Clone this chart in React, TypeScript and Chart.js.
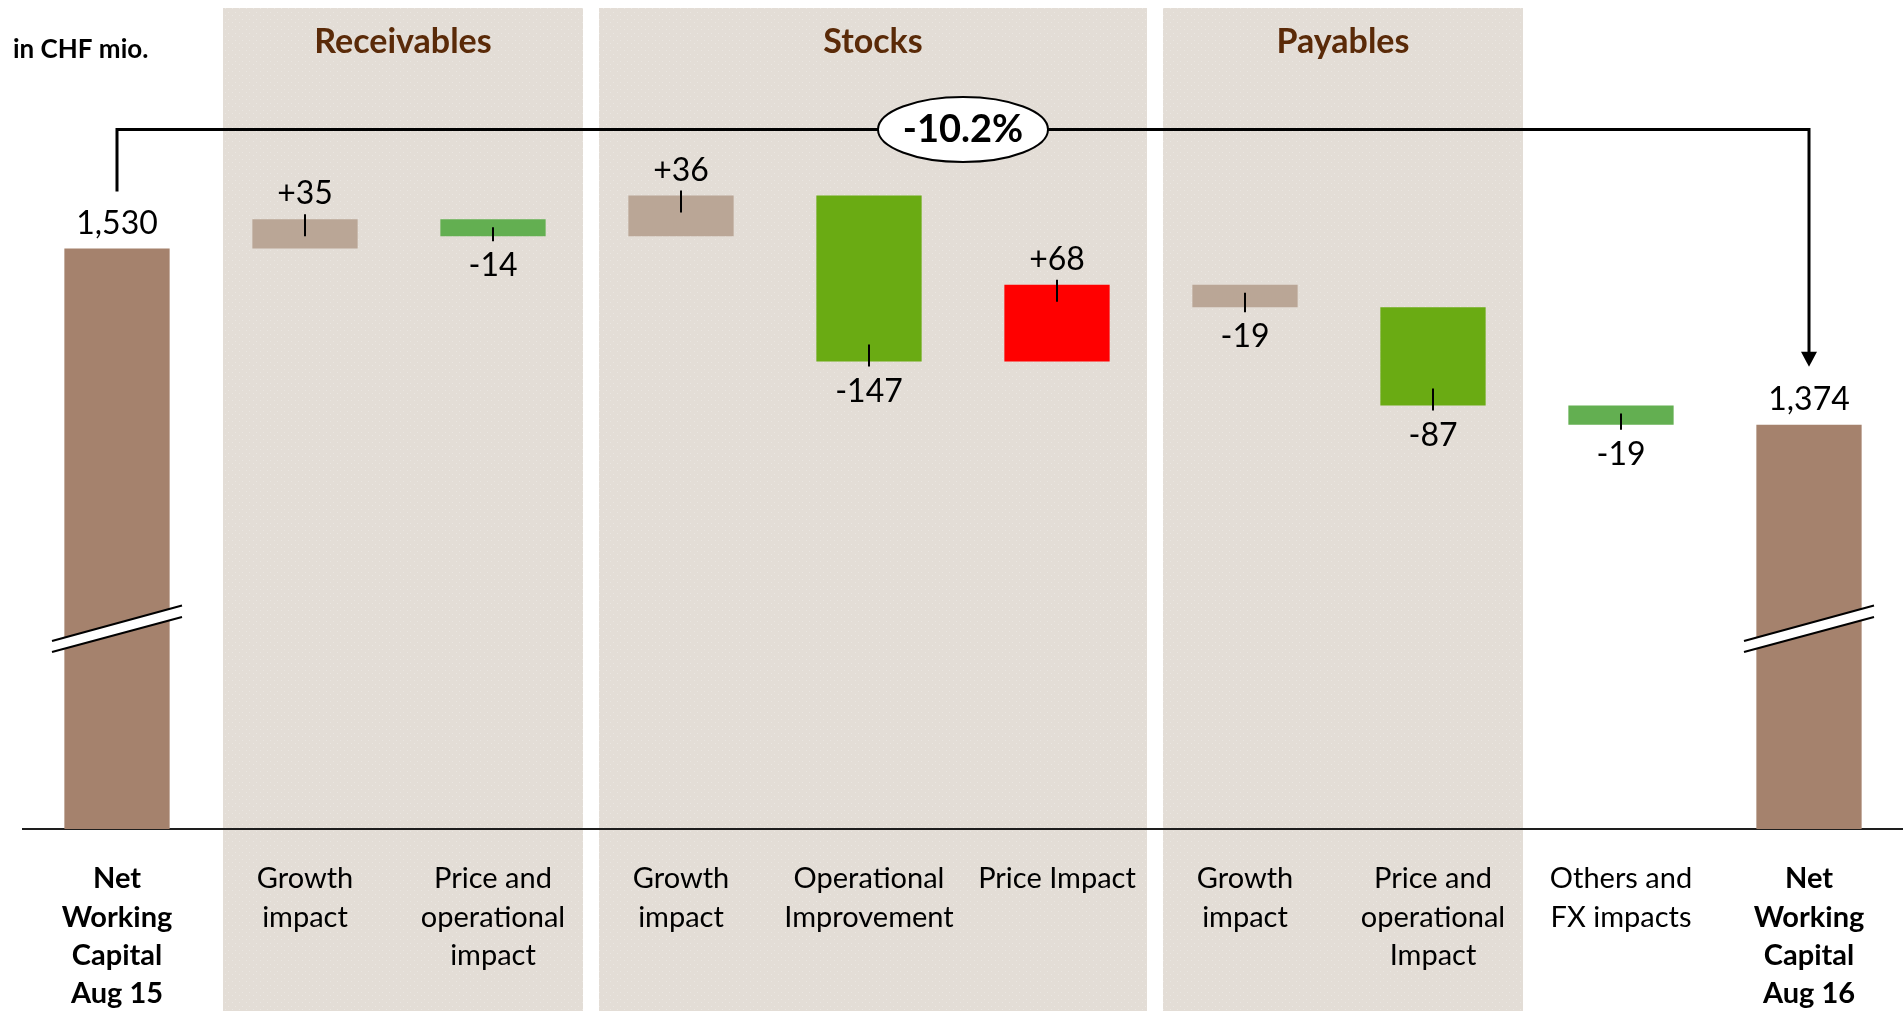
import React, { useEffect, useRef } from "react";
import { Chart, registerables } from "chart.js";

Chart.register(...registerables);

// ---------- data ----------
const categories: string[][] = [
  ["Net", "Working", "Capital", "Aug 15"],
  ["Growth", "impact"],
  ["Price and", "operational", "impact"],
  ["Growth", "impact"],
  ["Operational", "Improvement"],
  ["Price Impact"],
  ["Growth", "impact"],
  ["Price and", "operational", "Impact"],
  ["Others and", "FX impacts"],
  ["Net", "Working", "Capital", "Aug 16"],
];
const valueLabels = ["1,530", "+35", "-14", "+36", "-147", "+68", "-19", "-87", "-19", "1,374"];
// bar extents (axis is broken, starts near 1016)
const barStart = [1016, 1530, 1556, 1541, 1577, 1430, 1498, 1478, 1391, 1016];
const barEnd = [1530, 1556, 1541, 1577, 1430, 1498, 1478, 1391, 1374, 1374];
const totalFlags = [true, false, false, false, false, false, false, false, false, true];
const groupNames = ["Receivables", "Stocks", "Payables"];
const groupFirst = [1, 3, 6];
const groupLast = [2, 5, 7];
const changeLabel = "-10.2%";
const unitLabel = "in CHF mio.";
const yMin = 1016;
const yMax = 1697;

// ---------- styles ----------
const barColors = [
  "#A5826D", "#BAA696", "#63AF51", "#BAA696", "#6AAB13",
  "#FF0000", "#BAA696", "#6AAB13", "#63AF51", "#A5826D",
];
const FONT = "Lato, 'Open Sans', sans-serif";

const decorPlugin = {
  id: "decor",
  beforeDraw(chart: any) {
    const { ctx, scales } = chart;
    const x = scales.x;
    const step = x.getPixelForValue(1) - x.getPixelForValue(0);
    ctx.save();
    const tile = document.createElement("canvas");
    tile.width = 7;
    tile.height = 7;
    const tc = tile.getContext("2d")!;
    tc.fillStyle = "#E3DDD6";
    tc.fillRect(0, 0, 7, 7);
    tc.fillStyle = "#EAE6E1";
    tc.fillRect(1, 1, 1, 1);
    tc.fillRect(4, 5, 1, 1);
    const pat = ctx.createPattern(tile, "repeat");
    groupNames.forEach((name, g) => {
      const left = x.getPixelForValue(groupFirst[g]) - step / 2 + 12;
      const right = x.getPixelForValue(groupLast[g]) + step / 2 - 4;
      ctx.fillStyle = pat || "#E3DDD6";
      ctx.fillRect(left, 8, right - left, chart.height - 8);
      ctx.fillStyle = "#5A2A08";
      ctx.font = `bold 34px ${FONT}`;
      ctx.textAlign = "center";
      ctx.textBaseline = "alphabetic";
      ctx.fillText(name, (left + right) / 2, 53);
    });
    ctx.fillStyle = "#000";
    ctx.font = `bold 26px ${FONT}`;
    ctx.textAlign = "left";
    ctx.textBaseline = "alphabetic";
    ctx.fillText(unitLabel, 13, 58);
    ctx.restore();
  },
  afterDatasetsDraw(chart: any) {
    const { ctx, chartArea } = chart;
    const meta = chart.getDatasetMeta(0);
    const bars = meta.data;
    ctx.save();
    ctx.textAlign = "center";
    ctx.textBaseline = "alphabetic";

    bars.forEach((b: any, i: number) => {
      const top = Math.min(b.y, b.base);
      const bottom = Math.max(b.y, b.base);
      const cx = b.x;
      const up = barEnd[i] > barStart[i];
      ctx.fillStyle = "#000";
      ctx.font = `32px ${FONT}`;
      if (totalFlags[i]) {
        ctx.fillText(valueLabels[i], cx, top - 15);
        // broken-axis mark
        const yb = chartArea.bottom;
        const hw = 65;
        ctx.fillStyle = "#FFFFFF";
        ctx.beginPath();
        ctx.moveTo(cx - hw, yb - 188);
        ctx.lineTo(cx + hw, yb - 223.5);
        ctx.lineTo(cx + hw, yb - 212);
        ctx.lineTo(cx - hw, yb - 177);
        ctx.closePath();
        ctx.fill();
        ctx.strokeStyle = "#000";
        ctx.lineWidth = 2;
        ctx.beginPath();
        ctx.moveTo(cx - hw, yb - 188);
        ctx.lineTo(cx + hw, yb - 223.5);
        ctx.moveTo(cx - hw, yb - 177);
        ctx.lineTo(cx + hw, yb - 212);
        ctx.stroke();
      } else {
        ctx.strokeStyle = "#000";
        ctx.lineWidth = 2;
        ctx.beginPath();
        if (up) {
          ctx.fillText(valueLabels[i], cx, top - 15);
          ctx.moveTo(cx, top - 5);
          ctx.lineTo(cx, Math.min(top + 17, bottom - 8));
        } else {
          ctx.fillText(valueLabels[i], cx, bottom + 40);
          ctx.moveTo(cx, bottom + 5);
          ctx.lineTo(cx, Math.max(top + 8, bottom - 17));
        }
        ctx.stroke();
      }
    });

    // bracket with arrow
    const first = bars[0];
    const last = bars[bars.length - 1];
    const firstTop = Math.min(first.y, first.base);
    const lastTop = Math.min(last.y, last.base);
    const yLine = 129.5;
    const tipY = lastTop - 58;
    ctx.strokeStyle = "#000";
    ctx.lineWidth = 3;
    ctx.lineJoin = "miter";
    ctx.beginPath();
    ctx.moveTo(first.x, firstTop - 57);
    ctx.lineTo(first.x, yLine);
    ctx.lineTo(last.x, yLine);
    ctx.lineTo(last.x, tipY - 12);
    ctx.stroke();
    ctx.fillStyle = "#000";
    ctx.beginPath();
    ctx.moveTo(last.x, tipY);
    ctx.lineTo(last.x - 8, tipY - 15);
    ctx.lineTo(last.x + 8, tipY - 15);
    ctx.closePath();
    ctx.fill();

    // ellipse with change
    const ex = (first.x + last.x) / 2;
    ctx.beginPath();
    ctx.ellipse(ex, yLine, 85, 32.5, 0, 0, Math.PI * 2);
    ctx.fillStyle = "#FFFFFF";
    ctx.fill();
    ctx.lineWidth = 2;
    ctx.strokeStyle = "#000";
    ctx.stroke();
    ctx.fillStyle = "#000";
    ctx.font = `bold 38px ${FONT}`;
    ctx.textAlign = "center";
    ctx.textBaseline = "alphabetic";
    ctx.fillText(changeLabel, ex, 142);
    ctx.restore();
  },
};

export default function App() {
  const ref = useRef<HTMLCanvasElement | null>(null);
  useEffect(() => {
    if (!ref.current) return;
    const chart = new Chart(ref.current, {
      type: "bar",
      data: {
        labels: categories,
        datasets: [
          {
            data: barStart.map((s, i) => [s, barEnd[i]]) as any,
            backgroundColor: barColors,
            borderWidth: 0,
            borderSkipped: false,
            barPercentage: 0.56,
            categoryPercentage: 1,
          },
        ],
      },
      options: {
        animation: false,
        responsive: false,
        devicePixelRatio: 1,
        layout: { padding: { top: 60, left: 23, right: 0, bottom: 0 } },
        plugins: { legend: { display: false }, tooltip: { enabled: false }, title: { display: false } },
        scales: {
          x: {
            offset: true,
            grid: { display: false, drawTicks: false },
            border: { display: true, color: "#1E1E1E", width: 2 },
            ticks: {
              autoSkip: false,
              maxRotation: 0,
              minRotation: 0,
              padding: 31,
              color: "#000",
              font: (c: any) => ({
                family: FONT,
                size: 29,
                weight: totalFlags[c.index] ? "bold" : "normal",
                lineHeight: 1.32,
              }),
            },
            afterFit: (scale: any) => {
              scale.height = 182;
            },
          },
          y: { display: false, min: yMin, max: yMax },
        },
      },
      plugins: [decorPlugin],
    });
    return () => chart.destroy();
  }, []);
  return (
    <div style={{ position: "absolute", left: 0, top: 0, width: 1903, height: 1011, background: "#fff" }}>
      <canvas ref={ref} width={1903} height={1011} style={{ display: "block" }} />
    </div>
  );
}
